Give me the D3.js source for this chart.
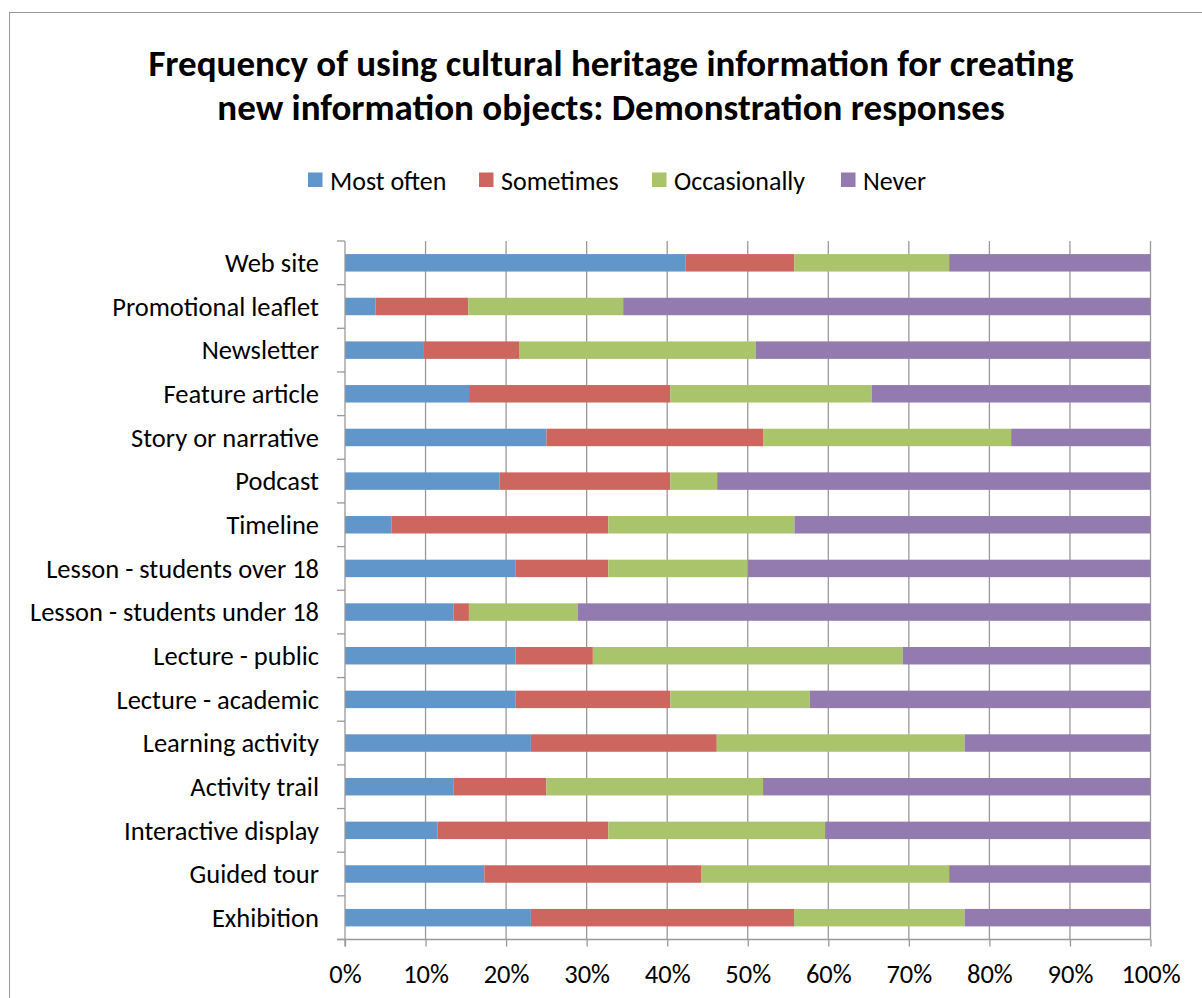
<!DOCTYPE html>
<html>
<head>
<meta charset="utf-8">
<script src="https://cdn.jsdelivr.net/npm/d3@7"></script>
<style>
  html, body { margin: 0; padding: 0; background: #fff; }
  svg { display: block; }
  text { font-family: Carlito, Calibri, Lato, "Open Sans", sans-serif; fill: #000; }
</style>
</head>
<body>
<svg id="chart" width="1202" height="998"></svg>
<script>
// Response categories, top to bottom
const categories = [
  "Web site", "Promotional leaflet", "Newsletter", "Feature article",
  "Story or narrative", "Podcast", "Timeline", "Lesson - students over 18",
  "Lesson - students under 18", "Lecture - public", "Lecture - academic",
  "Learning activity", "Activity trail", "Interactive display",
  "Guided tour", "Exhibition"
];

// Share of responses (%) per frequency level
const mostOften    = [42.3,  3.8,  9.8, 15.4, 25.0, 19.2,  5.8, 21.2, 13.5, 21.2, 21.2, 23.1, 13.5, 11.5, 17.3, 23.1];
const sometimes    = [13.5, 11.5, 11.8, 25.0, 26.9, 21.2, 26.9, 11.5,  1.9,  9.6, 19.2, 23.1, 11.5, 21.2, 26.9, 32.7];
const occasionally = [19.2, 19.2, 29.4, 25.0, 30.8,  5.8, 23.1, 17.3, 13.5, 38.5, 17.3, 30.8, 26.9, 26.9, 30.8, 21.2];
const never        = [25.0, 65.4, 49.0, 34.6, 17.3, 53.8, 44.2, 50.0, 71.2, 30.8, 42.3, 23.1, 48.1, 40.4, 25.0, 23.1];

const seriesNames = ["Most often", "Sometimes", "Occasionally", "Never"];
const seriesColors = ["#6096ca", "#cd665e", "#aac46b", "#937bb0"];
const xTicks = [0, 10, 20, 30, 40, 50, 60, 70, 80, 90, 100];

const titleLines = [
  "Frequency of using cultural heritage information for creating",
  "new information objects: Demonstration responses"
];

// Build rows for the stack layout
const seriesValues = [mostOften, sometimes, occasionally, never];
const rows = categories.map((c, i) => {
  const r = { category: c };
  seriesNames.forEach((s, k) => { r[s] = seriesValues[k][i]; });
  return r;
});

const stacked = d3.stack().keys(seriesNames).offset(d3.stackOffsetExpand)(rows);

const svg = d3.select("#chart");
const FONT = "Carlito, Calibri, Lato, 'Open Sans', sans-serif";

// Outer chart frame
svg.append("rect")
  .attr("x", 9.5).attr("y", 12.5)
  .attr("width", 1220).attr("height", 1020)
  .attr("fill", "none").attr("stroke", "#9a9a9a").attr("stroke-width", 1);

const plot = { left: 345, right: 1150.5, top: 241, bottom: 939.5 };

const x = d3.scaleLinear().domain([0, 1]).range([plot.left, plot.right]);
const y = d3.scaleBand().domain(categories)
  .range([plot.top, plot.bottom])
  .paddingInner(0.6).paddingOuter(0.3);

// Title
svg.append("g").selectAll("text")
  .data(titleLines).join("text")
  .attr("x", 611)
  .attr("y", (d, i) => 76 + i * 44)
  .attr("text-anchor", "middle")
  .attr("font-size", 37)
  .attr("font-weight", "bold")
  .text(d => d);

// Legend
const legendX = [308, 479, 652, 841];
const legend = svg.append("g").selectAll("g")
  .data(seriesNames).join("g")
  .attr("transform", (d, i) => `translate(${legendX[i]},172.5)`);
legend.append("rect")
  .attr("width", 14.5).attr("height", 14.5)
  .attr("fill", (d, i) => seriesColors[i]);
legend.append("text")
  .attr("x", 22).attr("y", 17)
  .attr("font-size", 26)
  .text(d => d);

// Vertical gridlines
svg.append("g").selectAll("line")
  .data(xTicks.slice(1)).join("line")
  .attr("x1", d => x(d / 100)).attr("x2", d => x(d / 100))
  .attr("y1", plot.top).attr("y2", plot.bottom)
  .attr("stroke", "#999").attr("stroke-width", 1.3);

// Stacked bars
svg.append("g").selectAll("g")
  .data(stacked).join("g")
  .attr("fill", (d, i) => seriesColors[i])
  .selectAll("rect")
  .data(d => d).join("rect")
  .attr("x", d => x(d[0]))
  .attr("y", d => y(d.data.category))
  .attr("width", d => x(d[1]) - x(d[0]))
  .attr("height", y.bandwidth());

// X axis
const xAxis = svg.append("g")
  .attr("transform", `translate(0,${plot.bottom})`)
  .call(d3.axisBottom(x).tickValues(xTicks.map(t => t / 100))
    .tickFormat(d3.format(".0%")).tickSize(7).tickSizeOuter(0));
xAxis.select(".domain").remove();
xAxis.append("line")
  .attr("x1", plot.left - 8).attr("x2", plot.right)
  .attr("stroke", "#999").attr("stroke-width", 1.3);
xAxis.selectAll(".tick line").attr("stroke", "#999").attr("stroke-width", 1.3);
xAxis.selectAll(".tick text")
  .attr("y", 43).attr("dy", null)
  .attr("font-size", 26.5).attr("fill", "#000")
  .attr("font-family", FONT);

// Y axis with tick marks at category boundaries
const yAxis = svg.append("g");
yAxis.append("line")
  .attr("x1", plot.left).attr("x2", plot.left)
  .attr("y1", plot.top).attr("y2", plot.bottom + 7)
  .attr("stroke", "#999").attr("stroke-width", 1.3);
const step = y.step();
yAxis.selectAll("line.b")
  .data(d3.range(categories.length + 1)).join("line")
  .attr("class", "b")
  .attr("x1", plot.left - 8).attr("x2", plot.left)
  .attr("y1", i => plot.top + i * step).attr("y2", i => plot.top + i * step)
  .attr("stroke", "#999").attr("stroke-width", 1.3);
yAxis.selectAll("text")
  .data(categories).join("text")
  .attr("x", 319)
  .attr("y", d => y(d) + y.bandwidth() / 2)
  .attr("dy", "0.35em")
  .attr("text-anchor", "end")
  .attr("font-size", 26.5)
  .text(d => d);
</script>
</body>
</html>
